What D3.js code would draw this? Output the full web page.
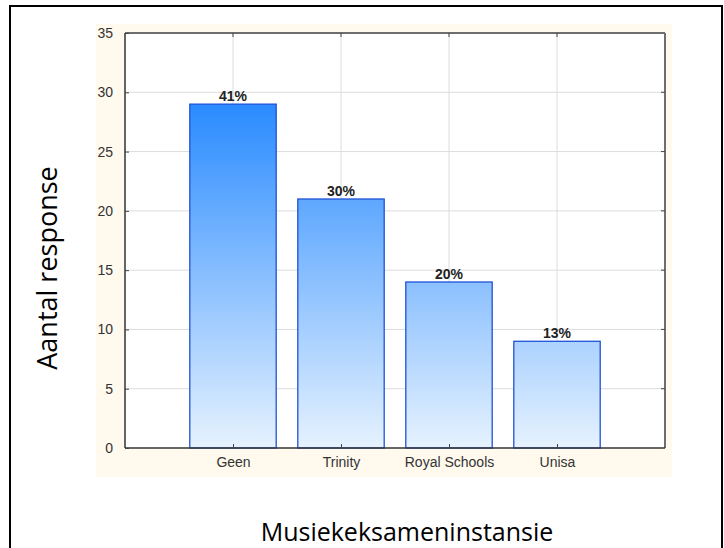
<!DOCTYPE html>
<html><head><meta charset="utf-8">
<script src="https://cdn.jsdelivr.net/npm/d3@7"></script>
<style>body{margin:0;background:#fff}svg{display:block}</style>
</head><body>
<script>
const categories = ["Geen", "Trinity", "Royal Schools", "Unisa"];
const values = [29, 21, 14, 9];
const percentLabels = ["41%", "30%", "20%", "13%"];
const yTicks = [0, 5, 10, 15, 20, 25, 30, 35];

const W = 724, H = 548;
const svg = d3.select("body").append("svg").attr("width", W).attr("height", H);
const FONT = "'Liberation Sans', Arial, sans-serif";

// outer border
svg.append("rect").attr("x", 10).attr("y", 6).attr("width", 712).attr("height", 560)
  .attr("fill", "#fff").attr("stroke", "#000").attr("stroke-width", 2);

// beige panel
svg.append("rect").attr("x", 96).attr("y", 24).attr("width", 576).attr("height", 453).attr("fill", "#fff9ee");

const L = 125, R = 665, T = 33, B = 448;
const x = d3.scaleLinear().domain([0, 5]).range([L, R]);
const y = d3.scaleLinear().domain([0, 35]).range([B, T]);
const step = x(1) - x(0);
const bw = step * 0.8;

svg.append("rect").attr("x", L).attr("y", T).attr("width", R - L).attr("height", B - T).attr("fill", "#fff");

// grid
svg.append("g").selectAll("line").data(yTicks.slice(1, -1)).join("line")
  .attr("x1", L).attr("x2", R).attr("y1", d => y(d)).attr("y2", d => y(d))
  .attr("stroke", "#dcdcdc").attr("stroke-width", 1);
svg.append("g").selectAll("line").data(categories).join("line")
  .attr("x1", (d, i) => x(i + 1)).attr("x2", (d, i) => x(i + 1)).attr("y1", T).attr("y2", B)
  .attr("stroke", "#dcdcdc").attr("stroke-width", 1);

// gradient
const defs = svg.append("defs");
const g = defs.append("linearGradient").attr("id", "bg").attr("gradientUnits", "userSpaceOnUse")
  .attr("x1", 0).attr("x2", 0).attr("y1", y(29)).attr("y2", y(0));
g.append("stop").attr("offset", "0%").attr("stop-color", "#2a8bff");
g.append("stop").attr("offset", "100%").attr("stop-color", "#e6f2fe");

// bars
svg.append("g").selectAll("rect").data(values).join("rect")
  .attr("x", (d, i) => x(i + 1) - bw / 2).attr("width", bw)
  .attr("y", d => y(d)).attr("height", d => y(0) - y(d))
  .attr("fill", "url(#bg)").attr("stroke", "#1f52d6").attr("stroke-width", 1.3);

// bar labels
svg.append("g").selectAll("text").data(values).join("text")
  .attr("x", (d, i) => x(i + 1)).attr("y", d => y(d) - 3)
  .attr("text-anchor", "middle").attr("font-family", FONT)
  .attr("font-size", 14).attr("font-weight", "bold").attr("fill", "#222")
  .text((d, i) => percentLabels[i]);

// frame
svg.append("line").attr("x1", L).attr("x2", R).attr("y1", T).attr("y2", T).attr("stroke", "#6e6e6e").attr("stroke-width", 2);
svg.append("line").attr("x1", R).attr("x2", R).attr("y1", T).attr("y2", B).attr("stroke", "#6e6e6e").attr("stroke-width", 2);
svg.append("line").attr("x1", L).attr("x2", L).attr("y1", T).attr("y2", B).attr("stroke", "#333").attr("stroke-width", 1.5);
svg.append("line").attr("x1", L).attr("x2", R).attr("y1", B).attr("y2", B).attr("stroke", "#333").attr("stroke-width", 1.5);

// axes
const yAxis = d3.axisLeft(y).tickValues(yTicks).tickSize(-4).tickPadding(12);
const ya = svg.append("g").attr("transform", `translate(${L},0)`).call(yAxis);
ya.select(".domain").remove();
ya.selectAll("line").attr("stroke", "#444");
ya.selectAll("text").attr("font-family", FONT).attr("font-size", 14).attr("fill", "#333");

// right ticks
svg.append("g").selectAll("line").data(yTicks.slice(1, -1)).join("line")
  .attr("x1", R - 4).attr("x2", R).attr("y1", d => y(d)).attr("y2", d => y(d)).attr("stroke", "#444");
// top ticks
svg.append("g").selectAll("line").data(categories).join("line")
  .attr("x1", (d, i) => x(i + 1)).attr("x2", (d, i) => x(i + 1)).attr("y1", T).attr("y2", T + 4).attr("stroke", "#444");

const xAxis = d3.axisBottom(x).tickValues([1, 2, 3, 4]).tickFormat(d => categories[d - 1]).tickSize(-4).tickPadding(9);
const xa = svg.append("g").attr("transform", `translate(0,${B})`).call(xAxis);
xa.select(".domain").remove();
xa.selectAll("line").attr("stroke", "#444");
xa.selectAll("text").attr("font-family", FONT).attr("font-size", 14).attr("fill", "#333");

// titles
svg.append("text").attr("transform", "translate(57,268) rotate(-90)").attr("text-anchor", "middle")
  .attr("font-family", "'Open Sans', sans-serif").attr("font-size", 27).attr("fill", "#000").text("Aantal response");
svg.append("text").attr("x", 407).attr("y", 541).attr("text-anchor", "middle")
  .attr("font-family", "'Open Sans', sans-serif").attr("font-size", 25).attr("fill", "#000").text("Musiekeksameninstansie");
</script>
</body></html>
